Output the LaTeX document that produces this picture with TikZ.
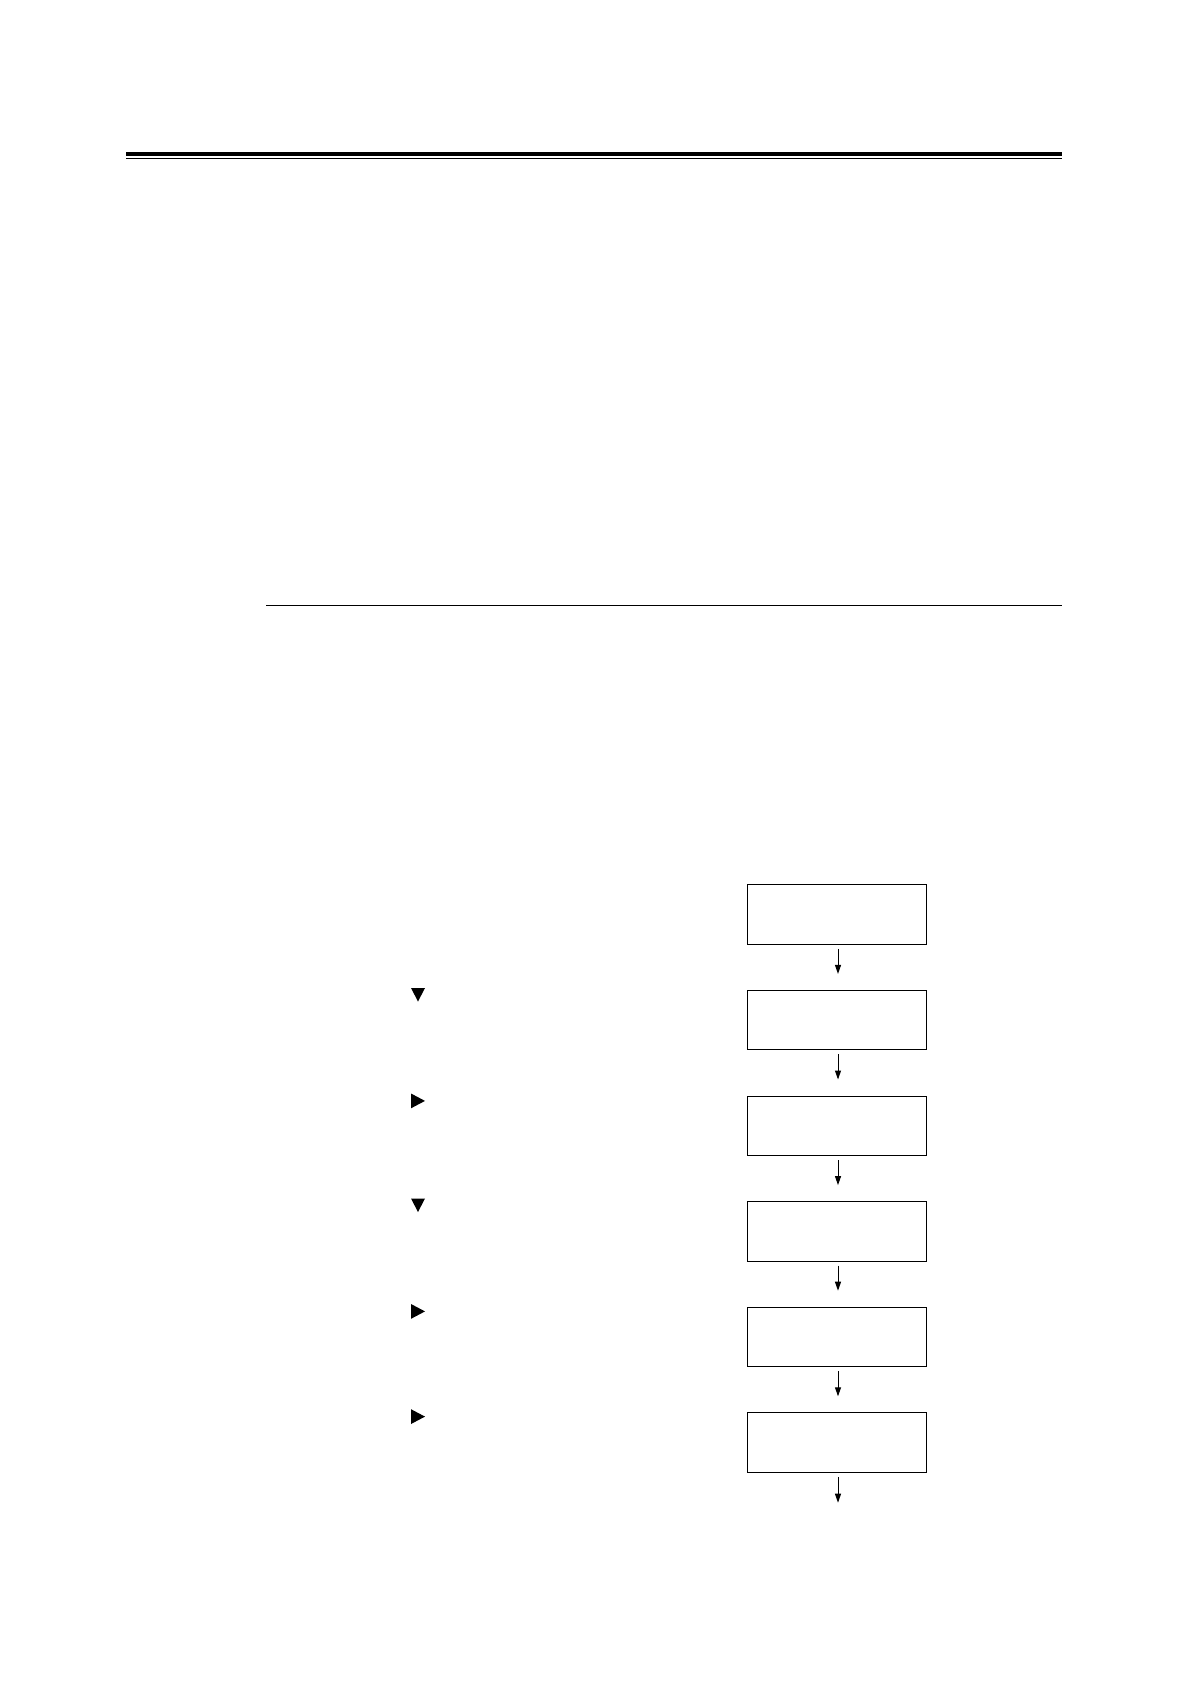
\documentclass[tikz,border=0pt]{standalone}
\usetikzlibrary{arrows.meta}
\begin{document}
\begin{tikzpicture}[x=1pt,y=-1pt,
  screen/.style={draw,line width=1pt,minimum width=179pt,minimum height=59.5pt,inner sep=0pt,anchor=north},
  flow/.style={line width=1pt,-{Triangle[length=9pt,width=6pt]},shorten <=4pt,shorten >=16pt},
  keymark/.style={fill=black}]
\useasboundingbox (0,0) rectangle (1190,1684);
% header rules
\fill (126,151.5) rectangle (1062,155.7);
\draw[line width=1.2pt] (126,158.3) -- (1062,158.3);
% section rule
\draw[line width=1pt] (266,605.8) -- (1062,605.8);
% screens
\node[screen] (b1) at (836.5,884.3) {};
\node[screen] (b2) at (836.5,989.9) {};
\node[screen] (b3) at (836.5,1095.5) {};
\node[screen] (b4) at (836.5,1201.1) {};
\node[screen] (b5) at (836.5,1306.7) {};
\node[screen] (b6) at (836.5,1412.3) {};
\coordinate (e) at (836.5,1518.7);
\draw[flow] ([xshift=1.5pt]b1.south) -- ([xshift=1.5pt]b2.north);
\draw[flow] ([xshift=1.5pt]b2.south) -- ([xshift=1.5pt]b3.north);
\draw[flow] ([xshift=1.5pt]b3.south) -- ([xshift=1.5pt]b4.north);
\draw[flow] ([xshift=1.5pt]b4.south) -- ([xshift=1.5pt]b5.north);
\draw[flow] ([xshift=1.5pt]b5.south) -- ([xshift=1.5pt]b6.north);
\draw[flow] ([xshift=1.5pt]b6.south) -- ([xshift=1.5pt]e);
% key marks
\fill[keymark] (411,988) -- (425,988) -- (418,1001.5) -- cycle;
\fill[keymark] (411,1093.5) -- (411,1108.3) -- (425,1100.9) -- cycle;
\fill[keymark] (411,1198.5) -- (425,1198.5) -- (418,1212) -- cycle;
\fill[keymark] (411,1304) -- (411,1318.8) -- (425,1311.4) -- cycle;
\fill[keymark] (411,1409.2) -- (411,1424) -- (425,1416.6) -- cycle;
\end{tikzpicture}
\end{document}
